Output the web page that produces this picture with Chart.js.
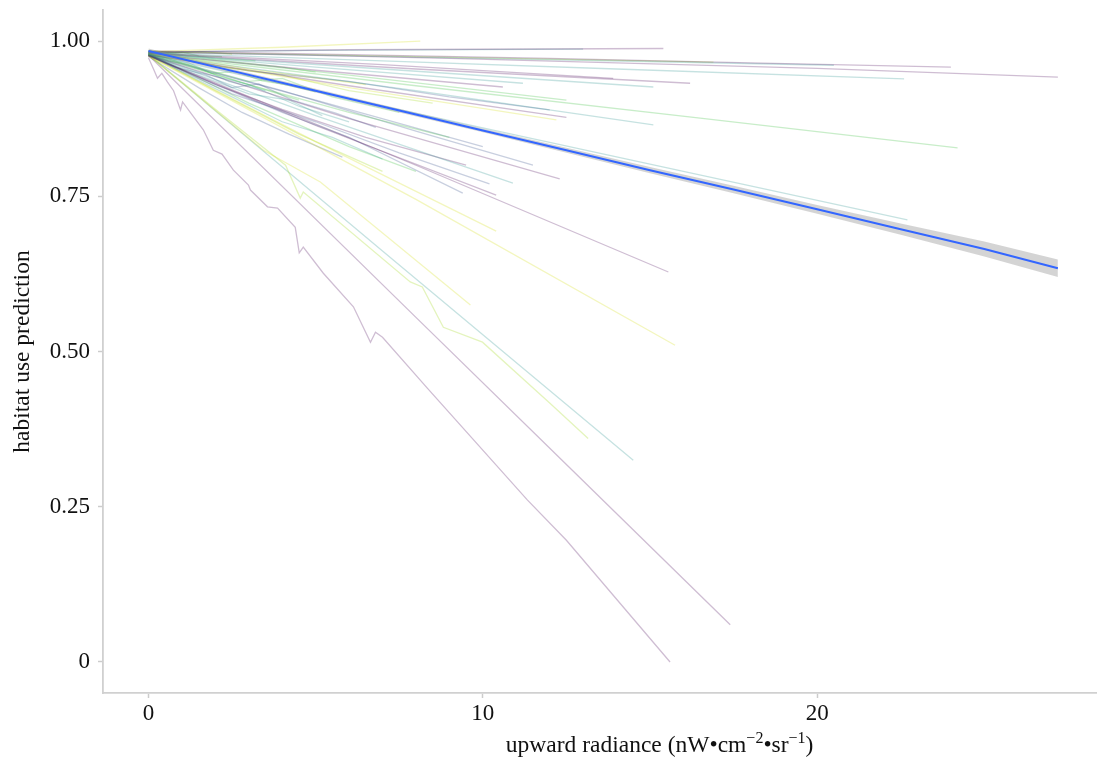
<!DOCTYPE html>
<html>
<head>
<meta charset="utf-8">
<script src="https://cdn.jsdelivr.net/npm/chart.js@4.4.1/dist/chart.umd.min.js"></script>
<style>
  html, body { margin: 0; padding: 0; background: #ffffff; overflow: hidden; }
  canvas { display: block; }
</style>
</head>
<body>
<canvas id="c" width="1097" height="760"></canvas>
<script>
// ---------------- DATA ----------------
const xTickValues = [0, 10, 20];
const xTickLabels = ["0", "10", "20"];
const yTickValues = [0, 0.25, 0.5, 0.75, 1.0];
const yTickLabels = ["0", "0.25", "0.50", "0.75", "1.00"];

const xAxisTitle = "upward radiance (nW•cm−2•sr−1)";
const yAxisTitle = "habitat use prediction";

// overall fitted relationship with confidence band
const fitRadiance   = [0, 2.5, 5, 7.5, 10, 12.5, 15, 17.5, 20, 22.5, 25, 27.2];
const fitPrediction = [0.984, 0.952, 0.920, 0.888, 0.856, 0.824, 0.792, 0.761, 0.729, 0.697, 0.665, 0.634];
const fitLower      = [0.980, 0.949, 0.917, 0.885, 0.853, 0.820, 0.787, 0.755, 0.722, 0.688, 0.653, 0.620];
const fitUpper      = [0.988, 0.955, 0.923, 0.891, 0.859, 0.828, 0.797, 0.767, 0.736, 0.706, 0.677, 0.648];

// per-species prediction curves (radiance, prediction)
const speciesRadiance = [
  [0, 4, 9, 14, 20, 27.2],
  [0, 6, 12, 18, 24.0],
  [0, 7, 14, 22.6],
  [0, 8, 16.5, 24.2],
  [0, 10, 16, 22.7],
  [0, 10, 20.5],
  [0, 8, 16.9],
  [0, 6, 15.4],
  [0, 5, 13.0],
  [0, 4, 8.13],
  [0, 8, 16.2],
  [0, 7, 15.1],
  [0, 7, 13.9],
  [0, 5, 11.2],
  [0, 5, 10.6],
  [0, 8, 15.1],
  [0, 6, 12.2],
  [0, 6, 12.5],
  [0, 3, 6, 9, 12.0],
  [0, 6, 12.3],
  [0, 5, 10.9],
  [0, 5, 10.4],
  [0, 2, 4, 6, 9.4],
  [0, 8, 15.55],
  [0, 5, 10.4],
  [0, 8, 15.75],
  [0, 3.44, 5.14, 9.63],
  [0, 2, 4.1, 4.54, 4.63, 7.83, 8.19, 8.82, 9.99, 12.0, 13.15],
  [0, 7, 14.5],
  [0, 8, 12.5, 17.4],
  [0, 0.15, 0.27, 0.4, 0.57, 0.75, 0.96, 1.02, 1.35, 1.64, 1.94, 2.2, 2.54, 2.99, 3.05, 3.56, 3.86, 4.39, 4.51, 4.63, 5.23, 6.13, 6.64, 6.79, 7.0, 8.34, 11.33, 12.5, 15.6],
  [0, 1.5, 2.8, 4.2, 5.8],
  [0, 1, 2, 3, 4, 5.5, 7.5],
  [0, 1.5, 3, 4.5, 6],
  [0, 3, 6, 9],
  [0, 4, 8, 11.5],
  [0, 2, 4, 6, 8.5],
  [0, 1.5, 3, 4.5],
  [0, 1.2, 2.4, 3.5],
  [0, 3, 6.5],
  [0, 5, 10],
  [0, 6, 12.5],
  [0, 2, 4, 6.5, 9.5],
  [0, 1, 2.5, 4, 5.5, 7],
  [0, 0.5, 1, 1.5, 2.2],
  [0, 1, 2, 3.2],
  [0, 0.8, 1.6, 2.5],
  [0, 2, 4, 5],
  [0, 2.5, 5, 7.5, 10.2],
  [0, 1, 2, 3, 4.2, 5.2],
  [0, 2, 4.5, 7],
  [0, 3, 6, 8],
  [0, 0.6, 1.2, 1.9, 2.6, 3.4, 4.2, 5.0],
  [0, 0.8, 1.7, 2.5, 3.3, 4.3, 5.6, 6.8]
];
const speciesPrediction = [
  [0.982, 0.978, 0.972, 0.965, 0.956, 0.942],
  [0.984, 0.978, 0.972, 0.965, 0.958],
  [0.981, 0.968, 0.955, 0.939],
  [0.979, 0.928, 0.876, 0.828],
  [0.978, 0.860, 0.790, 0.712],
  [0.982, 0.972, 0.961],
  [0.983, 0.975, 0.966],
  [0.982, 0.986, 0.988],
  [0.982, 0.985, 0.987],
  [0.983, 0.990, 1.000],
  [0.980, 0.955, 0.932],
  [0.980, 0.955, 0.926],
  [0.981, 0.962, 0.940],
  [0.980, 0.958, 0.932],
  [0.979, 0.953, 0.926],
  [0.978, 0.920, 0.865],
  [0.979, 0.925, 0.873],
  [0.978, 0.928, 0.877],
  [0.978, 0.952, 0.935, 0.910, 0.889],
  [0.977, 0.875, 0.778],
  [0.977, 0.880, 0.771],
  [0.976, 0.864, 0.752],
  [0.977, 0.930, 0.885, 0.845, 0.755],
  [0.977, 0.800, 0.628],
  [0.976, 0.838, 0.694],
  [0.976, 0.745, 0.510],
  [0.977, 0.824, 0.773, 0.575],
  [0.978, 0.890, 0.800, 0.747, 0.757, 0.612, 0.604, 0.539, 0.515, 0.417, 0.360],
  [0.978, 0.662, 0.325],
  [0.977, 0.555, 0.318, 0.060],
  [0.973, 0.955, 0.940, 0.948, 0.934, 0.920, 0.889, 0.902, 0.878, 0.857, 0.824, 0.818, 0.792, 0.768, 0.760, 0.733, 0.731, 0.700, 0.659, 0.668, 0.626, 0.572, 0.515, 0.531, 0.523, 0.441, 0.261, 0.196, 0.000],
  [0.975, 0.925, 0.885, 0.850, 0.813],
  [0.980, 0.965, 0.950, 0.935, 0.940, 0.910, 0.885],
  [0.978, 0.950, 0.930, 0.895, 0.870],
  [0.978, 0.930, 0.885, 0.845],
  [0.978, 0.920, 0.855, 0.800],
  [0.982, 0.960, 0.945, 0.920, 0.900],
  [0.982, 0.955, 0.930, 0.905],
  [0.980, 0.965, 0.935, 0.920],
  [0.982, 0.955, 0.930],
  [0.977, 0.905, 0.830],
  [0.980, 0.945, 0.905],
  [0.977, 0.930, 0.890, 0.845, 0.800],
  [0.978, 0.950, 0.910, 0.870, 0.845, 0.810],
  [0.984, 0.980, 0.982, 0.976, 0.975],
  [0.983, 0.978, 0.972, 0.968],
  [0.985, 0.981, 0.983, 0.979],
  [0.982, 0.970, 0.958, 0.950],
  [0.976, 0.915, 0.870, 0.820, 0.770],
  [0.979, 0.955, 0.935, 0.915, 0.905, 0.880],
  [0.979, 0.920, 0.850, 0.790],
  [0.980, 0.900, 0.830, 0.790],
  [0.981, 0.968, 0.962, 0.948, 0.951, 0.936, 0.929, 0.918],
  [0.979, 0.958, 0.946, 0.925, 0.931, 0.905, 0.884, 0.861]
];

// ---------------- STYLE ----------------
const palette = {
  P: 'rgba(68,1,84,0.26)',
  B: 'rgba(59,82,139,0.28)',
  T: 'rgba(33,144,140,0.26)',
  G: 'rgba(94,201,98,0.34)',
  L: 'rgba(170,220,50,0.32)',
  Y: 'rgba(215,225,40,0.30)'
};
const speciesStyle = "PPTGTTLPTYPTPTPTYPBPTPBPYYYLTPPBGTGBLGTYBGPTGGLGBTLGGB".split('');

const datasets = [];
datasets.push({
  data: fitRadiance.map((x, i) => ({ x, y: fitPrediction[i] })),
  borderColor: '#3366FF', borderWidth: 2, pointRadius: 0, fill: false, order: 0
});
datasets.push({
  data: fitRadiance.map((x, i) => ({ x, y: fitLower[i] })),
  borderColor: 'rgba(0,0,0,0)', borderWidth: 0, pointRadius: 0, fill: false, order: 1
});
datasets.push({
  data: fitRadiance.map((x, i) => ({ x, y: fitUpper[i] })),
  borderColor: 'rgba(0,0,0,0)', borderWidth: 0, pointRadius: 0,
  fill: 1, backgroundColor: 'rgba(153,153,153,0.42)', order: 1
});
speciesRadiance.forEach((xs, k) => {
  datasets.push({
    data: xs.map((x, i) => ({ x, y: speciesPrediction[k][i] })),
    borderColor: palette[speciesStyle[k]] || palette.P,
    borderWidth: 1.3, pointRadius: 0, fill: false, order: 2
  });
});

const FONT = "'Liberation Serif', 'DejaVu Serif', serif";

const xTitlePlugin = {
  id: 'xTitle',
  afterDraw(chart) {
    const ctx = chart.ctx;
    const area = chart.chartArea;
    const parts = [
      ['upward radiance (nW•cm', false],
      ['−2', true],
      ['•sr', false],
      ['−1', true],
      [')', false]
    ];
    const big = '23.5px ' + FONT, small = '16px ' + FONT;
    ctx.save();
    let total = 0;
    parts.forEach(p => { ctx.font = p[1] ? small : big; total += ctx.measureText(p[0]).width; });
    let x = area.left + area.width * 0.56 - total / 2;
    const base = chart.height - 8;
    ctx.fillStyle = '#111';
    ctx.textBaseline = 'alphabetic';
    ctx.textAlign = 'left';
    parts.forEach(p => {
      ctx.font = p[1] ? small : big;
      ctx.fillText(p[0], x, p[1] ? base - 9 : base);
      x += ctx.measureText(p[0]).width;
    });
    ctx.restore();
  }
};

new Chart(document.getElementById('c'), {
  type: 'line',
  data: { datasets },
  options: {
    responsive: false,
    animation: false,
    devicePixelRatio: 1,
    layout: { padding: { top: 10, right: 0, left: 0, bottom: 0 } },
    plugins: { legend: { display: false }, tooltip: { enabled: false } },
    elements: { line: { tension: 0 }, point: { radius: 0 } },
    scales: {
      x: {
        type: 'linear', min: -1.36, max: 28.37,
        afterBuildTicks: s => { s.ticks = xTickValues.map(v => ({ value: v })); },
        afterFit: s => { s.height = 67; s.paddingLeft = 0; s.paddingRight = 0; },
        grid: { drawOnChartArea: false, drawTicks: true, tickLength: 5, tickColor: '#cccccc', tickWidth: 1.5 },
        border: { display: true, color: '#d0d0d0', width: 1.8 },
        ticks: {
          font: { family: FONT, size: 23 }, color: '#111', padding: 2, maxRotation: 0,
          callback: (v, i) => xTickLabels[i]
        },
        title: { display: false }
      },
      y: {
        type: 'linear', min: -0.05, max: 1.05,
        afterBuildTicks: s => { s.ticks = yTickValues.map(v => ({ value: v })); },
        afterFit: s => { s.width = 103; s.paddingTop = 0; s.paddingBottom = 0; },
        grid: { drawOnChartArea: false, drawTicks: true, tickLength: 5, tickColor: '#cccccc', tickWidth: 1.5 },
        border: { display: true, color: '#d0d0d0', width: 1.8 },
        ticks: {
          font: { family: FONT, size: 23 }, color: '#111', padding: 8,
          callback: (v, i) => yTickLabels[i]
        },
        title: {
          display: true, text: yAxisTitle, color: '#111',
          font: { family: FONT, size: 23.5 }, padding: { top: 9, bottom: 0 }
        }
      }
    }
  },
  plugins: [xTitlePlugin]
});
</script>
</body>
</html>
